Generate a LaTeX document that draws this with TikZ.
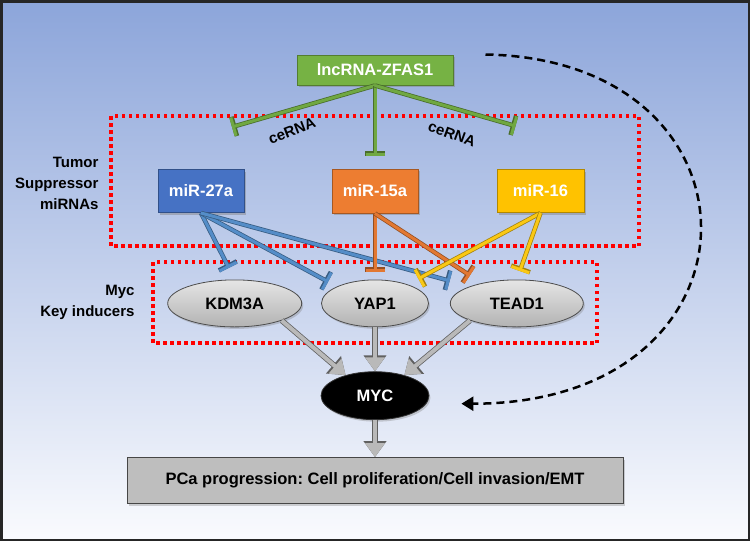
\documentclass[tikz,border=0pt]{standalone}
\usepackage{fontspec}
\setmainfont{Liberation Sans}
\usepackage{xcolor}
\usepackage{tikz}
\usetikzlibrary{positioning}
\usetikzlibrary{shapes.geometric}
\usetikzlibrary{shadows}
\usetikzlibrary{arrows.meta}
\definecolor{bgtop}{RGB}{140,165,218}
\definecolor{bgbot}{RGB}{250,251,254}
\definecolor{lncgreen}{RGB}{118,178,68}
\definecolor{mirblue}{RGB}{70,114,196}
\definecolor{mirorange}{RGB}{237,125,49}
\definecolor{miryellow}{RGB}{255,194,0}
\definecolor{linegreen}{RGB}{112,168,66}
\definecolor{lineblue}{RGB}{84,141,200}
\definecolor{lineorange}{RGB}{226,120,50}
\definecolor{lineyellow}{RGB}{250,200,20}
\definecolor{genegray}{RGB}{190,190,190}
\definecolor{dotred}{RGB}{255,0,0}
\newcommand{\bigfont}{\fontsize{16.5}{19}\selectfont\bfseries}
\newcommand{\sidefont}{\fontsize{15}{21}\selectfont\bfseries}
\frenchspacing

\begin{document}
\begin{tikzpicture}[x=1pt, y=1pt,
lncnode/.style={rectangle, draw=lncgreen!70!black, fill=lncgreen, line width=1pt, minimum width=156pt, minimum height=30pt, inner sep=0pt, text=white, font=\bigfont, drop shadow={shadow xshift=2pt, shadow yshift=-2pt, opacity=0.45}},
mirnanode/.style={rectangle, draw=#1!70!black, fill=#1, line width=1pt, minimum width=86pt, minimum height=43pt, inner sep=0pt, text=white, font=\bigfont, drop shadow={shadow xshift=2pt, shadow yshift=-2pt, opacity=0.45}},
genenode/.style={ellipse, draw=gray!60!black, line width=0.8pt, top color=gray!20, bottom color=gray!60, minimum height=47pt, inner sep=0pt, font=\bigfont, drop shadow={shadow xshift=1.5pt, shadow yshift=-2pt, opacity=0.35}},
mycnode/.style={ellipse, draw=gray!40!black, fill=black, line width=0.8pt, minimum width=108pt, minimum height=48pt, inner sep=0pt, text=white, font=\bigfont, drop shadow={shadow xshift=1.5pt, shadow yshift=-2pt, opacity=0.35}},
outcomenode/.style={rectangle, draw=gray!55!black, fill=genegray, line width=1pt, minimum width=496pt, minimum height=46pt, inner sep=0pt, font=\bigfont, drop shadow={shadow xshift=2pt, shadow yshift=-2pt, opacity=0.35}},
sidelabel/.style={anchor=east, align=right, font=\sidefont},
celabel/.style={font=\sidefont, inner sep=1pt},
redbox/.style={draw=dotred, line width=3.5pt, dash pattern=on 3.5pt off 3.5pt},
inhib/.style={draw=#1, line width=3pt, -{Bar[width=19pt]}, preaction={draw=#1!65!black, line width=4.5pt, -{Bar[width=20pt]}}},
garrow/.style={draw=gray!55, line width=4pt, -{Triangle[length=14pt,width=19pt]}, preaction={draw=gray!75!black, line width=5.5pt, -{Triangle[length=16pt,width=22pt]}}},
feedback/.style={draw=black, line width=2.5pt, dash pattern=on 8pt off 5pt, -{Triangle[length=12pt,width=14pt]}},
]
\useasboundingbox (0,0) rectangle (750,-541);
%Background
\shade[top color=bgtop, bottom color=bgbot] (0,0) rectangle (750,-541);
\draw[line width=2.5pt, black!85] (1.25,-1.25) rectangle (748.75,-539.75);
\draw[redbox] (111,-116) rectangle (639,-246);
\draw[redbox] (153,-262) rectangle (597,-343);

%Nodes
\node[lncnode]						(lnc)		at (375,-70)				{lncRNA-ZFAS1};
\node[mirnanode=mirorange, minimum height=44pt]	(m15)		[below=83pt of lnc]		{miR-15a};
\node[mirnanode=mirblue]			(m27)		[left=87pt of m15]		{miR-27a};
\node[mirnanode=miryellow, minimum width=87pt]	(m16)		[right=78pt of m15]		{miR-16};
\node[genenode, minimum width=107pt]	(yap)		[below=66pt of m15]		{YAP1};
\node[genenode, minimum width=134pt]	(kdm)		[left=19pt of yap]		{KDM3A};
\node[genenode, minimum width=133pt]	(tead)		[right=21pt of yap]		{TEAD1};
\node[mycnode]						(myc)		[below=44pt of yap]		{MYC};
\node[outcomenode]					(pca)		[below=37pt of myc]		{PCa progression: Cell proliferation/Cell invasion/EMT};
\node[sidelabel]					(tslabel)	at (102,-183)			{Tumor\\Suppressor\\miRNAs};
\node[sidelabel]					(myclabel)	at (138,-302)			{Myc\\Key inducers};
\node[celabel, rotate=21]			(cel)		at (292,-131)			{ceRNA};
\node[celabel, rotate=-20]			(cer)		at (452,-134)			{ceRNA};
\coordinate (ce27) at ([xshift=31pt, yshift=42pt]m27.north);
\coordinate (ce16) at ([xshift=-25pt, yshift=43pt]m16.north);
\coordinate (fbstart) at ([xshift=32pt]lnc.north east);
\coordinate (fbend) at ([xshift=32pt, yshift=-8pt]myc.east);

%Lines
\draw[inhib=linegreen] (lnc.south) -- (ce27);
\draw[inhib=linegreen, shorten >=13pt] (lnc.south) -- (m15.north);
\draw[inhib=linegreen] (lnc.south) -- (ce16);
\draw[inhib=lineblue, shorten >=13pt] (m27.south) -- (kdm.north);
\draw[inhib=lineblue, shorten >=10pt] (m27.south) -- (yap.north west);
\draw[inhib=lineblue, shorten >=21pt] (m27.south) -- (tead.160);
\draw[inhib=lineorange, shorten >=8pt] (m15.south) -- (yap.north);
\draw[inhib=lineorange, shorten >=14pt] (m15.south) -- (tead.150);
\draw[inhib=lineyellow, shorten >=12pt] (m16.south) -- (yap.30);
\draw[inhib=lineyellow, shorten >=9pt] (m16.south) -- (tead.north);
\draw[garrow] (kdm.-20) -- (myc.145);
\draw[garrow] (yap.south) -- (myc.north);
\draw[garrow] (tead.-160) -- (myc.35);
\draw[garrow] (myc.south) -- (pca.north);
\draw[feedback] (fbstart) .. controls ([shift={(290,-5)}]fbstart) and ([shift={(313,0)}]fbend) .. (fbend);
\end{tikzpicture}
\end{document}
